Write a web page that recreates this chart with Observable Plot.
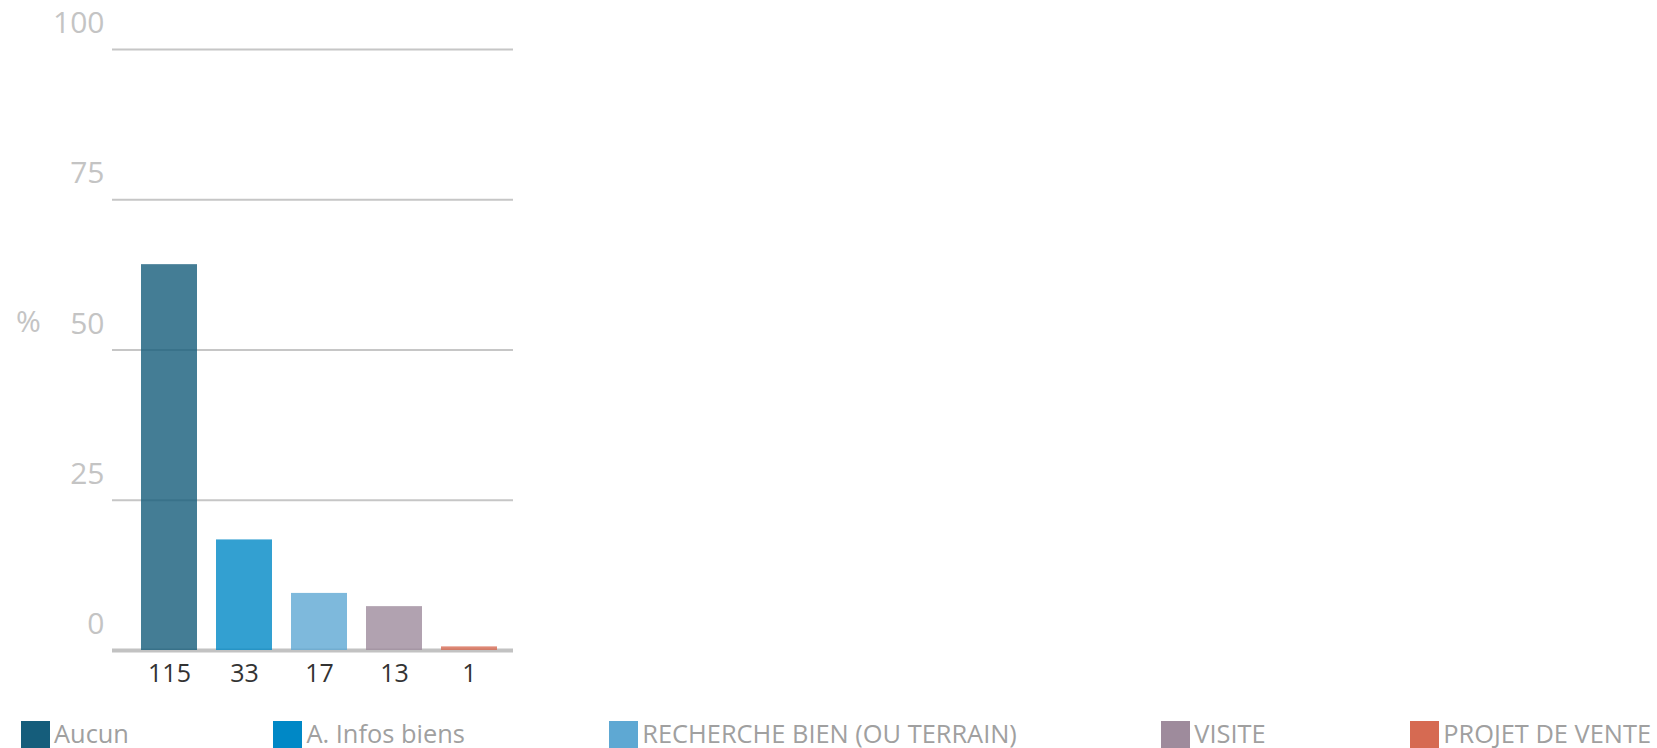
<!DOCTYPE html>
<html>
<head>
<meta charset="utf-8">
<script src="https://cdn.jsdelivr.net/npm/d3@7"></script>
<script src="https://cdn.jsdelivr.net/npm/@observablehq/plot@0.6"></script>
<style>
  html, body { margin: 0; padding: 0; background: #fff; overflow: hidden; }
  body { width: 1657px; height: 748px; font-family: "Open Sans", sans-serif; }
  #chart svg { display: block; }
  #legend {
    display: flex; justify-content: space-between; align-items: flex-start;
    height: 48px; box-sizing: border-box; padding: 21px 6px 0 21px;
  }
  .item { display: flex; align-items: center; white-space: nowrap; }
  .sw { width: 29px; height: 27px; margin-right: 4px; flex: none; }
  .lbl { font-size: 25.4px; line-height: 27px; color: #a0a0a0; position: relative; top: -1px; }
</style>
</head>
<body>
<div id="chart"></div>
<div id="legend"></div>
<script>
const categories = ["Aucun", "A. Infos biens", "RECHERCHE BIEN (OU TERRAIN)", "VISITE", "PROJET DE VENTE"];
const counts = [115, 33, 17, 13, 1];
const percents = [64.2, 18.4, 9.5, 7.3, 0.6];
const colors = ["#155d7b", "#0088c6", "#5ea8d3", "#9e8b9c", "#d66a52"];
const yTicks = [0, 25, 50, 75, 100];
const yLabel = "%";

const data = categories.map((c, i) => ({cat: c, pct: percents[i], n: counts[i]}));

const plot = Plot.plot({
  width: 1657,
  height: 700,
  marginLeft: 112,
  marginRight: 1144,
  marginTop: 49,
  marginBottom: 50,
  style: {fontFamily: "Open Sans, sans-serif", background: "#fff"},
  x: {domain: categories, range: [120.7, 516.2], padding: 0.256},
  y: {domain: [0, 100]},
  color: {domain: categories, range: colors},
  marks: [
    Plot.ruleY(yTicks.filter(d => d !== 0), {stroke: "#c6c6c6", strokeWidth: 2}),
    Plot.ruleY([0], {stroke: "#c2c2c2", strokeWidth: 4}),
    Plot.barY(data, {x: "cat", y: "pct", fill: "cat", fillOpacity: 0.8}),
    Plot.axisY({ticks: yTicks, tickSize: 0, tickPadding: 8, fontSize: 30, fill: "#c4c4c4", dy: -26, label: null}),
    Plot.axisX({tickSize: 0, tickPadding: 14, fontSize: 25, fill: "#333", label: null,
      tickFormat: d => String(counts[categories.indexOf(d)])}),
    Plot.text([yLabel], {frameAnchor: "left", text: d => d, fontSize: 30, fill: "#c4c4c4",
      textAnchor: "middle", dx: -84, dy: -28})
  ]
});
document.getElementById("chart").appendChild(plot);

const legend = document.getElementById("legend");
categories.forEach((c, i) => {
  const item = document.createElement("div");
  item.className = "item";
  const sw = document.createElement("span");
  sw.className = "sw";
  sw.style.background = colors[i];
  const lbl = document.createElement("span");
  lbl.className = "lbl";
  lbl.textContent = c;
  item.appendChild(sw);
  item.appendChild(lbl);
  legend.appendChild(item);
});
</script>
</body>
</html>
